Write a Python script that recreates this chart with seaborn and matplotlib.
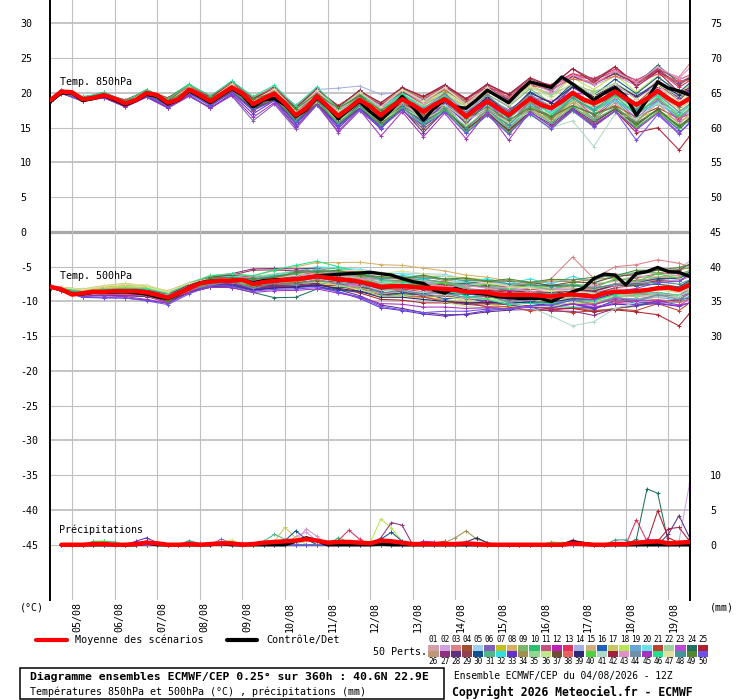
import numpy as np
import pandas as pd
import matplotlib
matplotlib.use("Agg")
import matplotlib.pyplot as plt
import seaborn as sns
from matplotlib.patches import Rectangle
from matplotlib.lines import Line2D

# ------------------------------------------------------------------ data
# ECMWF ensemble run of 04/08/2026 12Z, lead time in hours (6-hourly)
lead_hours = list(range(0, 361, 6))
# members are read every 12 h (06Z / 18Z) plus the first and last step
member_hours = [0] + list(range(6, 355, 12)) + [360]
day_hours = list(range(12, 349, 24))
day_labels = ['05/08', '06/08', '07/08', '08/08', '09/08', '10/08', '11/08', '12/08',
              '13/08', '14/08', '15/08', '16/08', '17/08', '18/08', '19/08']

t850_mean = [19.0, 20.2, 20.1, 19.1, 19.3, 19.7, 19.2, 18.5, 19.0, 20.0,
             19.7, 18.6, 19.1, 20.5, 19.7, 18.8, 19.8, 20.8, 19.9, 18.4,
             19.2, 19.9, 18.5, 16.8, 17.8, 19.5, 18.1, 16.7, 17.8, 19.0,
             18.1, 16.8, 18.0, 19.1, 18.3, 17.3, 18.3, 19.1, 18.0, 16.6,
             17.8, 18.8, 17.8, 16.8, 18.0, 19.2, 18.3, 17.8, 18.8, 20.0,
             19.1, 18.5, 19.2, 20.2, 19.2, 18.3, 19.2, 20.3, 19.2, 18.3, 19.2]
t850_ctrl = [18.8, 20.0, 20.0, 18.9, 19.2, 19.6, 19.0, 18.3, 18.9, 19.8,
             19.5, 18.4, 19.0, 20.3, 19.5, 18.6, 19.6, 20.6, 19.7, 18.0,
             19.0, 19.2, 18.3, 16.6, 17.6, 19.3, 18.0, 16.3, 17.6, 18.8,
             17.3, 16.1, 17.6, 19.5, 18.0, 16.1, 17.8, 19.0, 18.0, 17.8,
             19.0, 20.4, 19.5, 18.6, 20.2, 21.6, 21.2, 20.8, 22.3, 21.3,
             20.2, 19.0, 20.0, 20.8, 19.5, 16.8, 19.0, 21.6, 20.7, 20.3, 19.7]
t500_mean = [-7.9, -8.25, -9.0, -8.8, -8.6, -8.6, -8.5, -8.5, -8.5, -8.7, -9.05,
             -9.45, -8.8, -8.1, -7.4, -7.15, -7.0, -7.0, -6.9, -7.5, -7.2,
             -7.05, -6.9, -6.8, -6.6, -6.4, -6.6, -6.8, -6.9, -7.15, -7.5,
             -7.9, -7.8, -7.8, -7.9, -8.0, -8.1, -8.2, -8.35, -8.6, -8.6,
             -8.7, -9.0, -9.05, -9.05, -9.05, -9.15, -9.3, -9.05, -9.0, -9.15,
             -9.3, -8.8, -8.6, -8.6, -8.5, -8.35, -8.1, -8.0, -8.3, -7.6]
t500_ctrl = [-7.9, -8.3, -9.0, -8.9, -8.7, -8.7, -8.6, -8.6, -8.7, -8.9, -9.3,
             -9.6, -8.9, -8.0, -7.3, -7.1, -7.0, -7.0, -6.9, -7.3, -7.0,
             -6.9, -6.8, -6.8, -6.6, -6.3, -6.2, -6.1, -6.0, -5.9, -5.8,
             -6.0, -6.2, -6.7, -7.15, -7.4, -8.35, -8.8, -8.1, -8.5, -8.8,
             -8.97, -9.3, -9.45, -9.55, -9.55, -9.55, -10.0, -9.3, -8.6, -8.1,
             -6.7, -6.05, -6.2, -7.6, -5.95, -5.7, -5.1, -5.7, -5.8, -6.4]
# 6-h precipitation (mm), steps 6 h .. 360 h
rr_mean = [0.0, 0.0, 0.0, 0.1, 0.1, 0.0, 0.0, 0.1, 0.3, 0.2,
           0.0, 0.0, 0.1, 0.0, 0.1, 0.2, 0.2, 0.0, 0.1, 0.3,
           0.4, 0.5, 0.6, 0.8, 0.6, 0.3, 0.4, 0.4, 0.3, 0.2,
           0.6, 0.5, 0.3, 0.1, 0.1, 0.1, 0.1, 0.1, 0.2, 0.1,
           0.0, 0.0, 0.0, 0.0, 0.0, 0.0, 0.0, 0.0, 0.2, 0.1,
           0.0, 0.0, 0.1, 0.1, 0.3, 0.4, 0.5, 0.2, 0.3, 0.4]
rr_ctrl = [0.0, 0.0, 0.0, 0.0, 0.0, 0.0, 0.0, 0.0, 0.3, 0.0,
           0.0, 0.0, 0.0, 0.0, 0.0, 0.2, 0.0, 0.0, 0.0, 0.0,
           0.0, 0.0, 0.5, 1.0, 0.6, 0.0, 0.0, 0.0, 0.0, 0.0,
           0.1, 0.0, 0.0, 0.0, 0.0, 0.0, 0.0, 0.0, 0.0, 0.0,
           0.0, 0.0, 0.0, 0.0, 0.0, 0.0, 0.0, 0.0, 0.4, 0.2,
           0.0, 0.0, 0.0, 0.0, 0.0, 0.0, 0.0, 0.0, 0.0, 0.0]

# perturbed members, 850 hPa: departure from the ensemble mean (deg C) at member_hours
a850_01 = [0.1,0.0,-0.1,0.2,0.3,0.1,-0.2,0.4,0.5,0.3,0.8,0.6,1.0,0.7,1.2,0.9,1.5,1.1,1.8,1.2,2.0,1.5,2.4,1.6,2.2,1.0,1.8,0.6,1.5,0.4,1.0,0.8]
a850_02 = [-0.1,0.2,0.1,-0.2,0.0,0.3,0.4,0.2,-0.3,0.1,-0.5,0.2,-0.8,-0.3,-1.0,-0.4,-1.2,-0.6,-0.9,0.3,0.5,1.0,1.4,1.8,2.0,2.4,2.6,2.2,2.8,2.5,3.0,3.2]
a850_03 = [0.2,0.1,0.2,0.3,-0.1,0.4,0.6,0.5,0.3,0.7,0.5,0.9,1.2,0.8,1.5,1.0,1.8,1.2,2.2,1.6,2.6,2.0,3.0,2.2,3.2,2.4,3.5,2.8,3.6,3.0,4.0,5.0]
a850_04 = [-0.2,-0.1,0.0,-0.3,-0.2,-0.4,-0.6,-0.3,-0.8,-0.5,-1.0,-0.6,-1.3,-0.8,-1.5,-1.0,-1.8,-1.2,-2.0,-1.5,-1.8,-1.0,-1.5,-0.6,-1.2,-0.2,-0.8,0.4,0.2,0.9,0.6,1.2]
a850_05 = [0.0,0.2,0.3,0.1,0.2,-0.1,0.1,0.3,0.5,0.6,0.4,0.8,0.9,1.0,1.4,0.6,0.8,-0.2,0.5,-0.5,-0.2,-1.0,-0.8,-1.5,-1.2,-2.0,-1.5,-2.2,-1.6,-2.5,-1.8,-2.0]
a850_06 = [0.1,-0.2,-0.3,-0.4,-0.5,-0.6,-0.8,-1.0,-0.9,-1.2,-2.4,-1.5,-2.0,-1.2,-2.4,-1.6,-1.8,-1.0,-1.5,-0.5,-0.8,0.2,-0.4,0.6,0.0,1.0,0.5,1.2,0.8,1.5,1.0,1.8]
a850_07 = [0.2,0.0,0.1,0.2,0.4,0.2,0.3,0.1,0.6,0.4,0.9,0.5,1.1,0.4,0.8,0.0,0.5,-0.4,0.2,-0.8,-0.5,-1.2,-1.0,-1.8,-1.5,-2.0,-2.2,-2.6,-2.0,-2.8,-2.4,-2.6]
a850_08 = [-0.1,0.1,-0.2,0.0,-0.3,-0.1,-0.4,-0.2,-0.6,-0.3,-0.8,-0.4,-0.6,0.2,0.0,0.6,0.4,1.0,1.2,1.4,1.8,1.6,2.2,2.0,2.6,2.4,3.0,2.6,3.2,2.8,3.3,3.0]
a850_09 = [0.0,-0.1,0.1,-0.1,0.1,-0.2,0.2,-0.3,0.3,-0.4,0.4,-0.5,0.5,-0.2,0.8,0.0,1.0,0.3,1.2,0.6,1.5,1.0,1.2,1.4,0.8,1.0,0.5,0.6,0.2,0.3,-0.2,0.0]
a850_10 = [0.2,0.3,0.4,0.1,0.5,0.3,0.7,0.8,0.6,0.9,1.0,0.7,0.5,1.0,0.3,0.8,-0.2,0.5,-0.6,0.2,-1.0,-0.3,-1.4,-0.6,-1.8,-1.0,-2.2,-1.2,-2.5,-1.4,-2.0,-1.6]
a850_11 = [-0.2,0.0,-0.1,0.1,0.0,0.2,0.1,0.3,0.2,0.4,0.3,0.6,0.8,1.0,1.3,1.2,1.6,1.4,2.0,1.8,2.4,2.2,2.6,2.5,3.0,2.7,3.3,3.0,3.5,3.2,3.6,3.4]
a850_12 = [0.1,0.2,0.0,0.3,0.1,0.4,0.2,0.5,0.0,0.6,-0.2,0.8,0.4,1.1,0.9,1.4,1.2,1.2,1.0,0.8,0.6,0.4,0.8,0.2,1.0,0.0,1.2,-0.2,1.4,0.5,1.6,1.0]
a850_13 = [-0.1,0.1,0.2,0.0,0.3,0.1,0.4,0.2,0.5,0.3,0.7,0.5,1.0,0.8,1.4,1.2,1.8,1.5,2.2,1.8,2.6,2.0,3.0,2.4,3.4,2.8,3.6,3.2,3.0,3.0,2.5,2.6]
a850_14 = [0.1,0.0,0.2,0.1,0.3,0.2,0.5,0.1,0.6,0.4,0.9,0.6,1.5,1.0,4.0,2.0,3.0,1.0,1.5,0.5,1.0,0.0,0.5,-0.5,0.0,-1.0,-0.6,-1.5,-1.0,-2.0,-1.5,-1.8]
a850_15 = [0.0,0.1,-0.1,0.2,-0.2,0.3,-0.3,0.2,-0.4,0.0,-0.6,-0.2,-0.9,-0.5,-1.2,-0.6,-1.0,-0.4,-0.8,-0.2,-0.5,0.2,0.0,0.5,0.4,0.8,0.8,1.2,1.0,1.5,1.2,1.4]
a850_16 = [-0.2,-0.1,-0.2,-0.1,0.0,-0.2,-0.3,-0.1,-0.5,-0.2,-0.7,-0.4,-1.0,-0.6,-1.3,-0.8,-1.6,-1.0,-2.0,-1.4,-2.3,-1.8,-2.6,-2.2,-2.8,-2.6,-3.2,-2.8,-3.4,-3.0,-3.6,-3.0]
a850_17 = [0.1,0.2,0.3,0.2,0.4,0.3,0.5,0.4,0.6,0.3,0.4,0.2,0.0,-0.2,-0.4,-0.6,-0.8,-1.0,-1.2,-1.2,-1.5,-1.4,-2.0,-1.6,-1.8,-1.2,-1.5,-0.8,-1.0,-0.4,-0.6,-0.5]
a850_18 = [0.0,-0.1,0.0,-0.2,0.1,-0.3,0.0,-0.4,-0.2,-0.5,-0.4,-0.3,-0.2,0.0,0.2,0.4,0.6,0.8,1.0,1.2,1.4,1.6,1.6,2.0,1.8,2.2,2.0,2.4,1.8,2.2,1.5,2.0]
a850_19 = [0.1,0.0,0.1,0.0,0.2,0.0,0.3,0.1,0.4,0.2,0.6,0.4,0.8,0.3,0.6,0.0,0.4,-0.2,0.2,-0.4,0.0,-0.6,-0.3,-0.8,-0.5,-1.0,-0.8,-1.2,-1.0,-1.4,-1.2,-1.0]
a850_20 = [-0.1,0.0,-0.3,-0.1,-0.4,-0.2,-0.5,-0.6,-0.7,-0.4,-0.6,-0.2,-0.8,-0.4,-1.0,-0.8,-1.4,-1.2,-1.8,-1.6,-2.2,-2.0,-1.6,-1.4,-1.2,-0.8,-0.6,-0.2,0.0,0.3,0.2,0.5]
a850_21 = [0.2,0.1,0.3,0.2,0.5,0.3,0.7,0.6,0.8,0.5,0.9,0.3,0.6,0.0,0.3,-0.3,0.0,-0.6,-0.3,-0.9,-0.6,-1.2,-0.9,-1.5,-1.2,-1.8,-1.5,-2.0,-1.8,-2.4,-2.0,-2.2]
a850_22 = [-0.1,0.1,0.0,0.2,0.0,0.1,-0.1,0.0,-0.2,0.1,-0.3,0.2,-0.4,0.3,0.0,0.5,0.4,0.7,0.8,1.0,1.0,0.8,0.6,0.4,0.2,0.0,-0.4,-0.4,-0.8,-0.6,-1.0,-0.8]
a850_23 = [0.0,0.1,0.2,0.1,0.3,0.2,0.2,0.3,0.1,0.4,0.0,0.5,-0.2,0.6,-0.5,0.6,-0.7,0.5,-0.9,0.3,-1.1,0.0,-1.3,-0.3,-1.5,-0.6,-1.8,-1.0,-2.0,-1.2,-2.4,-1.5]
a850_24 = [0.1,-0.2,0.0,-0.3,0.1,-0.2,0.2,-0.1,0.3,0.0,0.4,0.2,0.6,0.4,0.9,0.7,1.2,1.0,1.5,1.4,1.9,1.8,2.2,2.1,2.6,2.4,2.8,2.7,3.0,3.7,3.2,2.8]
a850_25 = [-0.2,-0.3,-0.1,-0.2,0.0,-0.1,0.1,0.0,-0.2,-0.1,-0.4,-0.2,-0.7,-0.5,-1.0,-0.7,-1.3,-0.9,-1.6,-1.2,-2.0,-1.5,-2.4,-1.8,-2.8,-2.2,-3.2,-2.8,-4.0,-5.3,-6.5,-5.4]
a850_26 = [0.0,0.1,0.0,0.1,-0.1,0.0,-0.2,-0.1,-0.3,-0.2,-0.5,-0.3,-0.7,-0.4,-0.9,-0.5,-1.1,-0.6,-1.3,-0.8,-1.6,-1.0,-1.9,-1.2,-2.1,-1.4,-2.3,-1.6,-2.5,-1.8,-2.8,-2.2]
a850_27 = [0.1,0.3,0.2,0.4,0.3,0.5,0.4,0.6,0.5,0.8,0.8,1.0,1.0,1.2,1.2,1.4,1.5,1.6,1.8,1.8,2.0,2.0,2.3,2.2,2.5,2.4,2.8,2.6,3.0,2.8,3.2,3.0]
a850_28 = [-0.1,-0.2,-0.3,-0.2,-0.4,-0.3,-0.5,-0.4,-0.6,-0.6,-0.8,-0.9,-1.0,-1.1,-1.3,-1.2,-1.5,-1.4,-3.0,-1.6,-1.9,-1.8,-2.1,-2.0,-2.3,-2.2,-2.6,-2.5,-2.8,-2.7,-3.2,-3.0]
a850_29 = [0.2,0.0,0.1,0.0,0.2,0.1,0.3,0.2,0.5,0.4,0.7,0.6,1.0,0.9,1.3,1.2,1.7,1.6,2.1,2.0,2.5,2.4,2.9,2.8,3.2,3.5,3.4,3.6,3.0,3.2,2.8,3.0]
a850_30 = [0.0,-0.1,-0.2,0.0,-0.3,0.1,-0.4,0.0,-0.6,-0.1,-0.8,-0.2,-1.0,-0.4,-1.2,-0.5,-1.0,-0.2,-0.7,0.2,-0.3,0.6,0.2,1.0,0.7,1.4,1.2,1.8,1.6,2.0,1.8,2.2]
a850_31 = [0.1,0.2,0.1,0.3,0.2,0.4,0.3,0.5,0.2,0.3,0.0,0.1,-0.3,-0.2,-0.6,-0.5,-0.9,-0.8,-1.2,-1.1,-1.5,-1.4,-1.8,-1.7,-2.1,-2.0,-2.4,-2.3,-2.7,-2.6,-3.0,-2.8]
a850_32 = [-0.2,0.0,-0.1,0.1,0.0,0.2,0.1,0.3,0.3,0.5,0.6,0.7,0.9,0.9,1.1,1.0,1.0,0.8,0.6,0.4,0.2,0.0,-0.2,-0.4,-0.6,-0.8,-1.0,-1.2,-1.4,-1.6,-1.8,-1.6]
a850_33 = [0.1,-0.1,-0.2,-0.3,-0.4,-0.5,-0.7,-0.8,-1.0,-0.9,-1.4,-1.0,-1.6,-1.1,-1.8,-1.2,-2.0,-1.0,-1.5,-0.6,-1.0,-0.2,-0.4,0.3,0.2,0.8,0.6,1.0,0.9,1.2,1.0,1.1]
a850_34 = [0.0,0.1,0.0,0.2,0.1,0.3,0.0,0.4,-0.1,0.5,-0.2,0.6,-0.3,0.7,-0.4,0.8,-0.6,0.9,-0.8,1.0,-1.0,1.1,-1.4,-0.4,-1.6,-0.8,-1.2,-0.6,-1.5,-1.0,-1.8,-1.4]
a850_35 = [-0.1,0.2,0.1,0.3,0.2,0.4,0.3,0.5,0.6,0.6,0.9,0.8,1.1,1.0,1.4,1.2,1.7,1.4,2.0,1.6,2.2,1.8,2.0,1.6,1.8,1.4,1.6,1.2,1.4,1.0,1.2,0.8]
a850_36 = [0.2,0.0,0.2,0.0,0.1,-0.1,0.0,-0.2,-0.1,-0.4,-0.3,-0.6,-0.5,-0.8,-0.7,-1.0,-0.9,-1.2,-1.1,-1.4,-1.3,-1.5,-1.1,-1.2,-0.8,-0.9,-0.5,-0.6,-0.2,-0.3,0.0,-0.2]
a850_37 = [0.0,-0.2,-0.1,-0.3,-0.2,-0.4,-0.3,-0.5,-0.4,-0.7,-0.6,-0.9,-0.8,-1.1,-1.0,-1.3,-1.2,-1.5,-2.5,-1.8,-1.8,-2.0,-2.2,-2.2,-2.6,-2.4,-2.8,-2.5,-3.0,-2.6,-3.2,-2.8]
a850_38 = [-0.1,0.1,0.2,0.2,0.3,0.4,0.5,0.4,0.7,0.6,0.9,0.8,1.2,0.9,1.5,1.1,1.8,1.2,2.1,1.4,2.3,1.6,2.6,1.8,2.9,2.0,3.1,2.2,3.3,2.4,3.4,2.6]
a850_39 = [0.1,0.0,-0.1,0.0,-0.2,-0.1,-0.3,-0.2,-0.5,-0.3,-0.6,-0.4,-0.6,-0.2,-0.4,0.0,-0.2,0.2,0.0,0.4,0.3,0.6,0.5,0.8,0.8,0.9,1.0,1.1,1.2,1.2,1.4,1.3]
a850_40 = [0.0,0.2,0.1,0.1,0.0,0.2,-0.1,0.1,-0.3,0.0,-0.5,-0.2,-0.8,-0.5,-1.1,-0.8,-1.4,-1.1,-1.8,-1.5,-2.2,-1.9,-2.5,-2.3,-2.8,-2.6,-3.0,-2.8,-3.2,-3.0,-3.3,-3.1]
a850_41 = [-0.1,0.0,0.1,-0.1,0.0,-0.2,0.2,-0.3,0.4,-0.2,0.6,0.0,0.8,0.2,0.6,0.1,0.4,-0.3,0.0,-0.8,-0.5,-1.3,-1.0,-2.0,-2.8,-4.0,-6.2,-3.2,-2.0,-1.8,-1.2,-1.0]
a850_42 = [0.2,0.1,0.2,0.1,0.3,0.2,0.4,0.3,0.6,0.5,0.8,0.7,1.1,1.0,1.4,1.3,1.8,1.7,2.2,2.1,2.6,2.5,3.0,3.0,3.2,3.5,3.0,3.6,2.6,2.8,1.8,1.5]
a850_43 = [0.0,0.1,-0.1,0.0,-0.2,0.1,-0.1,0.2,0.0,0.3,0.2,0.5,0.4,0.7,0.7,1.0,1.0,1.3,1.3,1.6,1.6,1.9,2.0,2.2,2.4,2.6,2.8,3.0,3.2,3.4,3.8,4.4]
a850_44 = [-0.2,-0.1,-0.3,-0.1,-0.4,-0.2,-0.5,-0.3,-0.6,-0.4,-0.5,-0.2,-0.3,0.0,0.0,0.3,0.2,0.6,0.5,0.8,0.6,0.9,0.4,0.6,0.1,0.3,-0.3,-0.1,-0.7,-0.5,-1.0,-0.8]
a850_45 = [0.1,-0.1,-0.2,-0.4,-0.5,-0.6,-0.7,-0.9,-1.0,-1.1,-1.9,-1.3,-1.7,-1.2,-2.2,-1.4,-3.0,-1.8,-3.6,-2.0,-3.2,-1.5,-3.6,-1.9,-2.6,-2.4,-3.0,-2.8,-3.6,-3.2,-4.0,-3.6]
a850_46 = [0.0,0.2,0.3,0.4,0.3,0.5,0.5,0.7,0.8,0.9,1.1,1.2,1.3,1.4,1.0,1.1,0.6,0.8,0.2,0.5,-0.2,0.2,-0.6,-0.1,-0.9,-0.4,-1.2,-0.6,-1.4,-0.8,-1.5,-1.0]
a850_47 = [-0.1,0.0,0.0,0.1,0.1,0.2,0.2,0.3,0.3,0.5,0.4,0.7,0.6,0.9,0.9,1.1,1.2,1.4,1.5,1.7,1.8,2.0,1.6,1.8,1.4,1.5,1.2,1.1,0.8,0.8,0.5,0.6]
a850_48 = [0.1,0.1,0.0,0.2,-0.1,0.1,-0.2,0.0,-0.4,-0.1,-0.6,-0.3,-0.9,-0.6,-1.2,-0.9,-1.5,-1.2,-1.6,-1.4,-1.6,-1.3,-1.4,-1.0,-1.2,-0.7,-0.9,-0.4,-0.6,-0.1,-0.3,0.2]
a850_49 = [0.0,-0.1,0.1,-0.2,0.2,-0.2,0.3,-0.1,0.5,0.0,0.7,0.2,0.9,0.4,1.1,0.6,0.7,0.2,0.3,-0.3,-0.2,-0.8,-0.7,-1.3,-1.2,-1.8,-1.6,-2.2,-2.6,-2.8,-3.0,-3.2]
a850_50 = [-0.1,-0.2,-0.1,-0.3,-0.2,-0.4,-0.4,-0.6,-0.6,-0.8,-0.9,-1.0,-1.2,-1.2,-1.5,-1.4,-1.8,-1.6,-2.1,-1.8,-2.4,-2.0,-2.7,-2.2,-3.0,-2.5,-3.4,-2.8,-5.1,-3.4,-4.2,-3.4]

# perturbed members, 500 hPa: departure from the ensemble mean (deg C) at member_hours
a500_01 = [0.0,0.1,0.2,0.1,0.3,0.2,0.4,0.3,0.5,0.4,0.6,0.5,0.8,0.6,0.9,0.7,1.0,0.8,1.2,1.0,1.4,1.1,1.5,1.2,1.6,1.3,1.8,1.5,2.0,1.6,2.1,1.8]
a500_02 = [0.1,0.0,-0.1,-0.2,-0.3,-0.2,-0.4,-0.3,-0.5,-0.6,-0.8,-0.7,-1.0,-0.9,-0.6,-0.4,-0.2,0.2,0.5,0.8,1.0,1.3,1.5,1.8,2.0,2.2,2.4,2.6,2.2,2.8,3.0,3.4]
a500_03 = [-0.1,0.1,0.2,0.4,0.3,0.5,0.6,0.4,0.7,0.5,0.9,0.6,1.0,0.8,1.2,0.9,1.4,1.0,1.2,0.8,1.0,0.7,0.9,1.2,2.6,5.4,2.6,3.6,3.8,4.1,3.8,2.6]
a500_04 = [0.0,-0.1,0.0,-0.2,-0.1,-0.3,-0.2,-0.4,-0.5,-0.6,-0.8,-0.9,-1.1,-1.2,-1.0,-0.8,-0.6,-0.4,-0.2,0.0,0.2,0.4,0.6,0.8,1.0,0.7,1.3,0.9,1.6,1.2,1.8,1.4]
a500_05 = [0.1,0.2,0.1,0.3,0.2,0.4,0.3,0.5,0.4,0.6,0.7,0.9,1.1,1.3,1.5,1.6,1.8,1.9,2.0,2.1,1.8,1.6,1.4,1.2,1.0,0.8,0.6,0.9,1.2,1.5,1.8,2.1]
a500_06 = [-0.1,-0.2,-0.3,-0.4,-0.5,-0.6,-0.7,-0.5,-0.6,-0.4,-0.5,-0.3,-0.4,-0.2,-0.3,-0.5,-0.8,-1.1,-1.4,-1.6,-1.8,-2.0,-2.2,-2.1,-2.0,-1.8,-1.6,-1.4,-1.2,-1.0,-0.8,-0.6]
a500_07 = [0.0,0.2,0.4,0.5,0.6,0.7,0.5,0.4,0.3,0.2,0.0,-0.2,-0.4,-0.6,-0.8,-1.0,-1.2,-1.3,-1.4,-1.5,-1.6,-1.7,-1.8,-1.6,-1.4,-1.2,-1.0,-0.8,-0.5,-0.2,0.1,0.4]
a500_08 = [0.1,0.3,0.5,0.7,0.8,0.9,1.0,0.8,0.7,0.9,1.2,1.5,1.8,2.0,2.4,2.8,3.2,3.0,2.8,2.6,2.4,2.2,2.0,1.8,1.6,1.4,1.2,1.0,0.8,0.6,0.4,0.2]
a500_09 = [-0.1,0.0,-0.2,-0.1,-0.3,-0.2,-0.4,-0.3,-0.1,0.1,0.3,0.5,0.4,0.2,0.0,-0.2,-0.4,-0.6,-0.8,-0.6,-0.4,-0.2,0.0,0.2,0.4,0.6,0.4,0.2,0.0,-0.2,-0.4,-0.6]
a500_10 = [0.0,0.1,0.2,0.3,0.4,0.3,0.2,0.1,0.3,0.5,0.7,0.9,1.1,1.3,1.5,1.2,0.9,0.6,0.3,0.0,-0.3,-0.6,-0.9,-1.2,-1.5,-1.8,-2.1,-2.4,-2.2,-2.0,-1.8,-1.6]
a500_11 = [0.1,-0.1,0.0,-0.1,0.1,0.0,0.2,0.1,0.3,0.2,0.4,0.6,0.8,1.0,1.2,1.4,1.3,1.2,1.1,1.0,0.9,0.8,0.7,0.9,1.1,1.3,1.5,1.7,1.9,2.1,2.3,2.0]
a500_12 = [-0.1,-0.3,-0.5,-0.4,-0.6,-0.5,-0.7,-0.6,-0.8,-0.7,-0.9,-1.0,-1.2,-1.0,-0.8,-0.5,-0.2,0.1,0.4,0.7,1.0,0.8,0.6,0.4,0.2,0.0,-0.2,-0.4,-0.6,-0.8,-1.0,-1.2]
a500_13 = [0.0,0.1,0.0,0.2,0.1,0.3,0.2,0.4,0.6,0.8,1.0,0.8,0.6,0.4,0.2,0.0,-0.2,-0.4,-0.6,-0.8,-1.0,-1.2,-1.4,-1.6,-1.8,-2.0,-1.8,-1.6,-1.4,-1.2,-1.0,-0.8]
a500_14 = [0.1,0.0,0.1,0.0,0.1,0.2,0.1,0.3,0.2,0.4,0.3,0.5,0.4,0.6,0.5,0.7,0.6,0.8,0.7,0.9,0.8,1.0,0.9,1.1,1.0,0.8,0.6,0.4,0.2,0.0,-0.2,-0.4]
a500_15 = [-0.1,0.0,0.1,0.3,0.5,0.4,0.3,0.2,0.1,0.0,-0.2,-0.4,-0.6,-0.8,-1.0,-1.1,-1.2,-1.3,-1.4,-1.5,-1.6,-1.4,-1.2,-1.0,-0.8,-0.6,-0.4,-0.6,-0.8,-1.0,-1.2,-1.4]
a500_16 = [0.0,-0.1,-0.3,-0.2,-0.4,-0.3,-0.5,-0.2,-0.6,-0.4,-0.3,-0.8,-0.5,-1.0,-0.6,-1.1,-0.7,-1.3,-0.9,-1.4,-0.8,-1.5,-1.2,-1.0,-1.6,-1.3,-1.8,-1.2,-1.7,-2.0,-1.4,-1.9]
a500_17 = [0.1,0.3,0.6,0.9,1.1,1.0,0.8,0.6,0.4,0.2,0.0,0.2,0.4,0.6,0.8,1.0,1.2,1.4,1.6,1.8,2.0,1.8,1.6,1.4,1.2,1.0,0.8,1.0,1.2,1.4,1.6,1.8]
a500_18 = [0.0,0.1,0.3,0.5,0.7,0.6,0.5,0.3,0.1,-0.1,-0.3,-0.5,-0.7,-0.9,-1.1,-1.3,-1.5,-1.2,-1.4,-1.0,-1.3,-0.8,-1.1,-0.6,-0.9,-0.4,-0.7,-0.2,-0.5,0.0,-0.3,0.2]
a500_19 = [-0.1,-0.2,-0.1,0.0,0.1,0.2,0.3,0.4,0.5,0.6,0.7,0.8,0.9,1.0,1.1,1.2,1.3,1.1,0.9,0.7,0.5,0.3,0.1,-0.1,-0.3,-0.5,-0.7,-0.9,-1.1,-1.3,-1.5,-1.7]
a500_20 = [0.0,0.1,0.0,0.1,0.0,0.1,0.0,0.2,0.4,0.6,0.8,1.0,1.2,1.4,1.6,1.8,2.0,1.8,1.6,1.4,1.2,1.0,0.8,0.6,0.4,0.2,0.0,-0.2,-0.4,-0.6,-0.8,-1.0]
a500_21 = [0.1,0.2,0.0,0.1,-0.2,-0.1,-0.4,-0.2,-0.6,-0.3,-0.9,-0.6,-1.0,-1.3,-0.9,-1.4,-1.1,-1.6,-1.3,-1.9,-1.5,-2.1,-1.7,-2.3,-1.9,-2.6,-2.0,-2.5,-2.8,-2.2,-3.0,-2.6]
a500_22 = [-0.1,0.0,0.1,0.0,0.3,0.1,-0.1,0.1,-0.3,0.0,0.2,-0.1,0.4,0.1,0.6,0.3,0.8,0.5,1.1,0.7,1.3,0.9,1.5,1.0,1.8,1.2,1.9,1.5,2.2,1.6,2.4,1.9]
a500_23 = [0.0,-0.2,-0.4,-0.3,-0.5,-0.4,-0.6,-0.5,-0.3,-0.1,0.1,0.3,0.5,0.7,0.9,0.7,0.5,0.3,0.1,-0.1,-0.3,-0.5,-0.7,-0.9,-1.1,-1.3,-1.5,-1.7,-1.9,-2.1,-2.3,-2.0]
a500_24 = [0.1,0.0,-0.1,-0.2,-0.3,-0.4,-0.5,-0.6,-0.8,-1.0,-1.2,-2.4,-2.6,-1.8,-1.2,-0.8,-0.4,0.0,0.4,0.8,1.2,1.6,2.0,1.8,1.6,1.4,1.2,1.0,0.8,0.6,0.4,0.2]
a500_25 = [-0.1,0.0,0.1,0.0,-0.1,0.0,0.1,0.0,-0.2,-0.4,-0.6,-0.8,-1.0,-1.2,-1.4,-1.6,-1.8,-2.0,-2.2,-2.0,-1.8,-1.6,-1.4,-1.6,-1.8,-2.0,-2.2,-2.6,-3.0,-3.8,-5.2,-4.1]
a500_26 = [0.0,0.2,0.4,0.3,0.2,0.1,0.0,-0.1,-0.2,-0.3,-0.4,-0.5,-0.6,-0.7,-0.8,-0.9,-1.0,-0.8,-0.6,-0.4,-0.2,0.0,0.2,0.4,0.6,0.8,1.0,1.2,1.4,1.6,1.8,2.0]
a500_27 = [0.1,0.3,0.2,0.4,0.3,0.5,0.4,0.6,0.8,1.0,2.2,1.8,1.5,1.2,0.9,0.6,0.3,0.0,-0.3,-0.6,-0.9,-1.2,-1.5,-1.8,-2.1,-2.4,-2.7,-2.4,-2.1,-1.8,-1.5,-1.2]
a500_28 = [0.0,-0.1,-0.3,-0.5,-0.7,-0.6,-0.4,-0.2,0.0,-0.2,-0.4,-0.6,-0.8,-1.0,-1.5,-2.0,-2.6,-3.2,-3.6,-3.7,-3.3,-2.8,-2.2,-1.6,-1.0,-0.8,-0.6,-0.4,-0.2,0.0,0.2,0.4]
a500_29 = [-0.1,0.0,0.1,0.2,0.3,0.4,0.5,0.6,0.7,0.8,2.0,1.6,1.2,0.8,0.4,0.0,-0.4,-0.8,-1.2,-1.0,-0.8,-0.6,-0.4,-0.2,0.0,0.2,0.4,0.6,0.8,1.0,1.2,1.4]
a500_30 = [0.0,-0.1,0.0,-0.1,0.0,-0.1,0.0,-0.2,-0.4,-0.6,-0.8,-1.0,-1.2,-1.4,-1.6,-1.4,-1.2,-1.0,-0.8,-0.6,-0.4,-0.2,0.0,0.2,0.4,0.6,0.8,1.0,1.2,1.4,1.6,1.8]
a500_31 = [0.1,0.0,0.2,0.1,0.3,0.2,0.4,0.3,0.5,0.4,0.2,0.0,0.2,0.4,0.6,0.8,1.0,0.8,1.2,0.9,1.0,0.7,0.8,0.5,0.4,0.2,0.0,-0.2,-0.4,-0.6,-0.8,-1.0]
a500_32 = [0.0,0.2,-0.1,0.1,-0.2,0.2,0.0,0.4,0.2,0.6,0.4,0.9,0.6,1.1,0.8,1.4,1.0,1.6,1.2,1.9,1.4,2.0,1.6,2.3,1.8,2.6,2.0,2.4,2.7,2.2,2.9,2.5]
a500_33 = [-0.1,-0.3,-0.6,-0.9,-1.0,-1.1,-0.8,-0.5,-0.3,-0.5,-0.7,-0.9,-1.1,-1.4,-1.8,-2.4,-3.0,-3.5,-3.8,-3.9,-3.2,-2.6,-2.0,-1.6,-1.2,-1.4,-1.6,-1.8,-2.0,-2.2,-2.4,-2.6]
a500_34 = [0.0,0.2,0.1,0.2,-0.1,0.0,-0.3,-0.1,0.5,0.2,0.7,0.4,0.9,0.6,1.2,0.8,1.4,1.0,1.6,1.2,1.9,1.4,2.1,1.6,2.3,1.8,2.5,2.0,2.7,2.2,2.9,2.4]
a500_35 = [0.1,0.2,0.3,0.4,0.5,0.6,0.7,0.8,0.9,1.0,1.1,1.0,0.9,0.8,0.7,0.6,0.5,0.4,0.3,0.2,0.1,0.0,-0.1,-0.2,-0.3,-0.4,-0.5,-0.6,-0.7,-0.8,-0.9,-1.0]
a500_36 = [0.0,0.2,0.5,0.8,1.0,0.9,0.7,0.5,0.3,0.1,-0.1,-0.3,-0.5,-0.7,-0.9,-1.1,-1.3,-1.5,-1.7,-1.9,-2.1,-2.3,-2.0,-1.7,-1.4,-1.1,-0.8,-0.5,-0.2,0.1,0.4,0.7]
a500_37 = [-0.1,0.0,0.1,0.2,0.3,0.2,0.1,0.0,-0.1,-0.2,-0.3,-0.4,-0.5,-0.6,-0.4,-0.2,0.0,0.2,0.4,0.6,0.8,1.0,1.2,1.4,1.6,1.8,2.0,2.2,2.4,2.6,2.8,3.0]
a500_38 = [0.0,-0.1,-0.2,-0.3,-0.4,-0.5,-0.6,-0.4,-0.2,0.0,0.2,0.4,0.6,0.8,1.0,1.2,1.0,0.8,0.6,0.4,0.2,0.0,-0.2,-0.4,-0.6,-0.8,-1.0,-1.2,-1.4,-1.6,-1.8,-2.0]
a500_39 = [0.1,0.0,-0.1,-0.2,-0.3,-0.4,-0.5,-0.6,-0.7,-0.8,-0.9,-1.0,-1.1,-1.2,-1.3,-1.4,-1.5,-1.6,-1.7,-1.8,-1.6,-1.4,-1.2,-1.0,-0.8,-0.6,-0.4,-0.2,0.0,0.2,0.4,0.6]
a500_40 = [0.0,0.2,0.1,0.3,0.1,0.2,-0.1,0.0,-0.3,-0.1,-0.3,0.1,-0.1,0.3,0.1,0.5,0.2,0.7,0.4,0.9,0.6,1.2,0.8,1.4,1.0,1.6,1.2,1.9,1.4,2.1,1.6,2.2]
a500_41 = [-0.1,-0.2,-0.3,-0.2,-0.1,0.0,0.1,0.2,0.3,0.2,0.1,0.0,-0.1,-0.2,-0.3,-0.4,-0.5,-0.6,-0.7,-0.8,-0.9,-1.0,-1.2,-1.8,-2.8,-4.5,-3.6,-2.4,-1.6,-1.2,-1.0,-0.8]
a500_42 = [0.0,0.1,0.0,0.1,0.2,0.3,0.4,0.5,0.4,0.3,0.2,0.1,0.0,-0.1,-0.2,-0.3,-0.2,-0.1,0.0,0.1,0.2,0.3,0.4,0.5,0.6,0.7,0.8,0.9,1.0,1.1,1.2,1.3]
a500_43 = [0.1,-0.1,0.2,0.0,0.3,0.1,0.4,0.0,0.5,0.2,0.6,0.1,0.7,0.3,0.9,0.4,1.0,0.5,0.8,0.3,0.9,0.6,1.1,0.4,1.2,0.7,1.4,0.9,1.3,0.8,1.5,1.1]
a500_44 = [0.0,0.1,-0.2,0.0,-0.3,-0.1,-0.4,-0.2,-0.5,-0.1,-0.6,-0.3,-0.8,-0.4,-0.7,-0.2,-0.9,-0.5,-1.0,-0.6,-0.8,-0.4,-1.1,-0.6,-1.3,-0.8,-1.2,-0.7,-1.5,-0.9,-1.4,-1.2]
a500_45 = [-0.1,-0.2,-0.4,-0.6,-0.8,-1.0,-0.8,-0.6,-0.8,-1.0,-1.2,-1.4,-1.6,-1.8,-2.0,-2.2,-2.4,-2.6,-2.8,-2.6,-2.4,-2.2,-2.0,-1.8,-1.6,-1.4,-1.2,-1.0,-1.4,-1.8,-2.2,-2.6]
a500_46 = [0.0,0.1,0.2,0.3,0.4,0.5,0.6,0.7,0.8,1.0,1.2,1.6,2.0,2.2,1.8,1.4,1.0,0.6,0.2,-0.2,-0.6,-1.0,-1.4,-1.2,-1.0,-0.8,-0.6,-0.4,-0.2,0.0,0.2,0.4]
a500_47 = [0.1,0.3,0.5,0.8,1.0,1.1,0.9,0.7,0.5,0.3,0.1,0.3,0.6,0.9,1.3,1.6,1.9,2.2,2.0,1.8,1.6,1.4,1.2,1.0,0.8,0.6,0.4,0.2,0.0,-0.2,-0.4,-0.6]
a500_48 = [0.0,-0.1,-0.2,-0.1,0.0,0.1,0.2,0.3,0.4,0.5,0.6,0.7,0.8,0.9,1.0,1.1,1.2,1.3,1.4,1.5,1.6,1.7,1.6,1.5,1.4,1.3,1.2,1.1,1.0,0.9,0.8,0.7]
a500_49 = [-0.1,0.1,-0.2,0.0,-0.3,-0.1,-0.5,-0.2,0.6,0.4,0.8,0.5,1.0,0.7,1.3,0.9,1.5,1.1,1.8,1.4,2.0,1.6,2.3,1.8,2.5,2.1,2.8,2.3,3.0,2.6,3.2,2.9]
a500_50 = [0.0,-0.2,-0.5,-0.8,-1.0,-1.2,-1.0,-0.8,-0.6,-0.8,-1.0,-1.2,-1.4,-1.6,-1.8,-2.2,-2.8,-3.4,-3.6,-3.2,-2.8,-2.4,-2.0,-1.6,-1.2,-0.8,-0.4,0.0,0.4,0.8,1.2,1.6]

# member precipitation: non-zero 6-h totals (lead hour, mm); all other steps are 0
rr_member_spikes = {
    2: [(138, 1.2), (144, 1.8), (150, 0.6), (354, 0.5), (360, 8.9)],
    6: [(54, 0.6), (96, 0.8), (102, 0.3)],
    9: [(156, 0.4), (162, 0.3)],
    10: [(24, 0.5), (30, 0.5), (36, 0.4), (162, 1.0), (168, 0.4)],
    11: [(102, 0.2), (108, 0.3)],
    12: [(210, 0.5), (216, 0.4)],
    13: [(162, 0.6), (168, 2.1), (174, 0.8), (330, 3.6), (336, 0.5)],
    17: [(126, 0.5), (132, 2.5), (138, 1.0)],
    18: [(180, 0.3), (186, 3.7), (192, 2.4), (198, 0.5)],
    20: [(144, 0.8), (186, 0.7), (192, 0.3)],
    21: [(216, 0.3), (222, 0.5)],
    24: [(330, 0.8), (336, 8.05), (342, 7.4), (348, 0.3)],
    25: [(336, 0.3), (342, 4.9), (348, 1.0), (354, 0.3)],
    27: [(186, 1.0), (192, 3.2), (198, 2.8)],
    28: [(348, 1.5), (354, 4.2), (360, 1.0)],
    30: [(132, 0.6), (138, 2.0), (144, 0.8), (186, 0.8), (192, 1.8), (198, 0.5)],
    31: [(120, 0.5), (126, 1.5), (132, 0.8)],
    33: [(48, 0.5), (54, 1.0), (60, 0.3), (294, 0.7), (300, 0.3)],
    34: [(222, 0.3), (228, 1.0), (234, 2.0), (240, 0.8), (246, 0.3)],
    36: [(96, 0.4), (102, 0.7)],
    39: [(234, 0.4), (240, 1.0), (246, 0.3)],
    40: [(24, 0.4), (30, 0.5), (282, 0.4), (288, 0.3)],
    42: [(342, 0.5), (348, 2.3), (354, 2.5), (360, 0.5)],
    43: [(138, 0.5), (144, 2.3), (150, 1.2)],
    45: [(336, 0.8), (342, 0.6)],
    48: [(78, 0.6), (84, 0.2), (318, 0.7), (324, 0.7)],
}

member_colors = ['#d4a0a8', '#d0a0e0', '#e08088', '#a05030', '#a0d0f0', '#8060b8', '#c0c020',
                 '#d8b060', '#78b868', '#28c070', '#c85080', '#c020b8', '#e03060', '#a8b0e0',
                 '#d0b080', '#2060b8', '#c8c860', '#b8e850', '#68a8d8', '#68e0e8', '#c04030',
                 '#a0d0a0', '#c048d8', '#207060', '#b02030',
                 '#c09878', '#903080', '#603080', '#904050', '#105090', '#50b888', '#30e0e0',
                 '#6030d0', '#a09050', '#90d890', '#c0e888', '#705030', '#e86060', '#302878',
                 '#50d040', '#b0d8c8', '#a02040', '#e090c8', '#7090a8', '#a830c0', '#20e090',
                 '#e0e0a0', '#409898', '#508830', '#7050e8']

anom850 = [a850_01, a850_02, a850_03, a850_04, a850_05, a850_06, a850_07, a850_08, a850_09, a850_10,
           a850_11, a850_12, a850_13, a850_14, a850_15, a850_16, a850_17, a850_18, a850_19, a850_20,
           a850_21, a850_22, a850_23, a850_24, a850_25, a850_26, a850_27, a850_28, a850_29, a850_30,
           a850_31, a850_32, a850_33, a850_34, a850_35, a850_36, a850_37, a850_38, a850_39, a850_40,
           a850_41, a850_42, a850_43, a850_44, a850_45, a850_46, a850_47, a850_48, a850_49, a850_50]
anom500 = [a500_01, a500_02, a500_03, a500_04, a500_05, a500_06, a500_07, a500_08, a500_09, a500_10,
           a500_11, a500_12, a500_13, a500_14, a500_15, a500_16, a500_17, a500_18, a500_19, a500_20,
           a500_21, a500_22, a500_23, a500_24, a500_25, a500_26, a500_27, a500_28, a500_29, a500_30,
           a500_31, a500_32, a500_33, a500_34, a500_35, a500_36, a500_37, a500_38, a500_39, a500_40,
           a500_41, a500_42, a500_43, a500_44, a500_45, a500_46, a500_47, a500_48, a500_49, a500_50]

# ------------------------------------------------------------------ tables
names = [f"{n:02d}" for n in range(1, 51)]
palette = dict(zip(names, member_colors))
mean850_at = dict(zip(lead_hours, t850_mean))
mean500_at = dict(zip(lead_hours, t500_mean))
rows = []
for name, d850, d500 in zip(names, anom850, anom500):
    for h, x8, x5 in zip(member_hours, d850, d500):
        rows.append((name, h, mean850_at[h] + x8, mean500_at[h] + x5))
temps = pd.DataFrame(rows, columns=["member", "hour", "t850", "t500"])

rr_rows = []
for n, name in enumerate(names, start=1):
    spikes = dict(rr_member_spikes.get(n, []))
    for h in lead_hours[1:]:
        rr_rows.append((name, h, spikes.get(h, 0.0)))
rain = pd.DataFrame(rr_rows, columns=["member", "hour", "rr"])

# ------------------------------------------------------------------ figure
sns.set_theme(style="white")
plt.rcParams["font.family"] = ["DejaVu Sans Mono", "DejaVu Sans"]
plt.rcParams["text.color"] = "black"

W, H = 740, 700
fig = plt.figure(figsize=(W / 100, H / 100), dpi=100)
fig.patch.set_facecolor("white")


def fx(x):
    return x / W


def fy(y):
    return 1 - y / H


ax = fig.add_axes([fx(50), fy(600), 640 / W, 600 / H])
ax2 = ax.twinx()
Y0, Y1 = -52.95, 33.38
OFFSET = 45  # right scale = left scale + 45

grid_c = "#c0c0c0"
for v in range(-45, 31, 5):
    if v == 0:
        ax.axhline(v, color="#a8a8a8", lw=2.3, zorder=0.5)
    else:
        ax.axhline(v, color=grid_c, lw=1.3 if v % 10 == 0 else 0.8, zorder=0.5)
for h in day_hours:
    ax.axvline(h, color=grid_c, lw=0.8, zorder=0.5)

mkw = dict(lw=0.75, marker="+", markersize=3.2, markeredgewidth=0.7,
           markeredgecolor=None, legend=False, estimator=None, zorder=2)
sns.lineplot(data=temps, x="hour", y="t850", hue="member", hue_order=names,
             palette=palette, ax=ax, **mkw)
sns.lineplot(data=temps, x="hour", y="t500", hue="member", hue_order=names,
             palette=palette, ax=ax, **mkw)
sns.lineplot(x=lead_hours, y=t850_ctrl, color="black", lw=2.4, ax=ax, zorder=3)
sns.lineplot(x=lead_hours, y=t500_ctrl, color="black", lw=2.4, ax=ax, zorder=3)
sns.lineplot(x=lead_hours, y=t850_mean, color="red", lw=3.2, ax=ax, zorder=4)
sns.lineplot(x=lead_hours, y=t500_mean, color="red", lw=3.2, ax=ax, zorder=4)

sns.lineplot(data=rain, x="hour", y="rr", hue="member", hue_order=names,
             palette=palette, ax=ax2, **mkw)
sns.lineplot(x=lead_hours[1:], y=rr_ctrl, color="black", lw=2.4, ax=ax2, zorder=3)
sns.lineplot(x=lead_hours[1:], y=rr_mean, color="red", lw=3.2, ax=ax2, zorder=4)

ax.set_xlim(-0.4, 360.2)
ax.set_ylim(Y0, Y1)
ax2.set_ylim(Y0 + OFFSET, Y1 + OFFSET)
for a in (ax, ax2):
    a.set_xlabel("")
    a.set_ylabel("")

fs = 7.2
ax.set_xticks(day_hours)
ax.set_xticklabels(day_labels, rotation=90, ha="left", va="top", fontsize=fs, color="black")
ax.tick_params(axis="x", length=0, pad=1.5)
left_ticks = list(range(-45, 31, 5))
ax.set_yticks(left_ticks)
ax.set_yticklabels([str(v) for v in left_ticks], fontsize=fs, color="black")
ax.tick_params(axis="y", length=0, pad=21.6)
for t in ax.get_yticklabels():
    t.set_horizontalalignment("left")
right_ticks = [0, 5, 10, 30, 35, 40, 45, 50, 55, 60, 65, 70, 75]
ax2.set_yticks(right_ticks)
ax2.set_yticklabels([str(v) for v in right_ticks], fontsize=fs, color="black")
ax2.tick_params(axis="y", length=0, pad=14.4)

for s in ("top", "bottom", "right"):
    ax.spines[s].set_visible(False)
for s in ("top", "bottom", "left"):
    ax2.spines[s].set_visible(False)
ax.spines["left"].set_color("black")
ax.spines["left"].set_linewidth(1.4)
ax2.spines["right"].set_color("black")
ax2.spines["right"].set_linewidth(1.4)

# panel captions
fig.text(fx(60), fy(85), "Temp. 850hPa", fontsize=fs, va="baseline")
fig.text(fx(60), fy(279), "Temp. 500hPa", fontsize=fs, va="baseline")
fig.text(fx(59), fy(533), "Précipitations", fontsize=fs, va="baseline")
fig.text(fx(20), fy(607), "(°C)", fontsize=fs, va="center")
fig.text(fx(710), fy(607), "(mm)", fontsize=fs, va="center")

# legend
fig.add_artist(Line2D([fx(36), fx(67)], [fy(640), fy(640)], color="red", lw=3,
                      transform=fig.transFigure))
fig.text(fx(75), fy(640), "Moyenne des scénarios", fontsize=7.3, va="center")
fig.add_artist(Line2D([fx(227), fx(257)], [fy(640), fy(640)], color="black", lw=3,
                      transform=fig.transFigure))
fig.text(fx(266), fy(640), "Contrôle/Det", fontsize=7.3, va="center")
fig.text(fx(373), fy(652), "50 Perts.", fontsize=7.2, va="center")
col_w = 11.23
for j in range(25):
    x0 = 428.3 + col_w * j
    fig.add_artist(Rectangle((fx(x0), fy(651)), 10.2 / W, 6 / H, transform=fig.transFigure,
                             facecolor=member_colors[j], edgecolor="none"))
    fig.add_artist(Rectangle((fx(x0), fy(657.3)), 10.2 / W, 6 / H, transform=fig.transFigure,
                             facecolor=member_colors[j + 25], edgecolor="none"))
    fig.text(fx(x0 + 5.1), fy(639.5), names[j], fontsize=5.6, ha="center", va="center")
    fig.text(fx(x0 + 5.1), fy(662), names[j + 25], fontsize=5.6, ha="center", va="center")

# caption box
fig.add_artist(Rectangle((fx(20), fy(699)), 424 / W, 31 / H, transform=fig.transFigure,
                         facecolor="white", edgecolor="black", lw=1.1))
fig.text(fx(30), fy(677), "Diagramme ensembles ECMWF/CEP 0.25° sur 360h : 40.6N 22.9E",
         fontsize=8.25, fontweight="bold", va="center")
fig.text(fx(30), fy(692), "Températures 850hPa et 500hPa (°C) , précipitations (mm)",
         fontsize=7.2, va="center")
fig.text(fx(454), fy(676), "Ensemble ECMWF/CEP du 04/08/2026 - 12Z", fontsize=6.9, va="center")
fig.text(fx(452), fy(692), "Copyright 2026 Meteociel.fr - ECMWF", fontsize=8.3,
         fontweight="bold", va="center")

fig.savefig("out.png", dpi=100, facecolor="white")
